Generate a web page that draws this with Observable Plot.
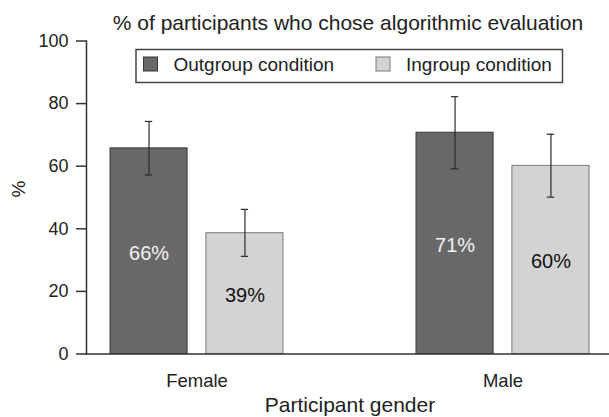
<!DOCTYPE html>
<html>
<head>
<meta charset="utf-8">
<script src="https://cdn.jsdelivr.net/npm/d3@7"></script>
<script src="https://cdn.jsdelivr.net/npm/@observablehq/plot@0.6"></script>
<style>
  html, body { margin: 0; padding: 0; background: #fff; }
  svg { display: block; overflow: visible; }
</style>
</head>
<body>
<div id="chart"></div>
<script>
const title = "% of participants who chose algorithmic evaluation";
const xLabel = "Participant gender";
const yLabel = "%";
const genders = ["Female", "Male"];
const conditions = ["Outgroup condition", "Ingroup condition"];
const conditionColors = ["#686868", "#d3d3d3"];
const outgroupPct = [65.7, 70.7];
const outgroupLow = [57.2, 59.2];
const outgroupHigh = [74.3, 82.2];
const ingroupPct = [38.6, 60.1];
const ingroupLow = [31.2, 50.1];
const ingroupHigh = [46.2, 70.2];
const yTicks = [0, 20, 40, 60, 80, 100];

const outData = genders.map((g, i) => ({gender: g, v: outgroupPct[i], lo: outgroupLow[i], hi: outgroupHigh[i]}));
const inData = genders.map((g, i) => ({gender: g, v: ingroupPct[i], lo: ingroupLow[i], hi: ingroupHigh[i]}));

const font = "'Liberation Sans', Arial, sans-serif";
const bw = 172.6;        // group band width
const barW = 76.7;       // each bar width
const off = (bw - barW) / 2; // offset from group centre to bar centre
const cap = 3.5;
const fmt = v => Math.round(v) + "%";

const chart = Plot.plot({
  width: 609,
  height: 417,
  marginLeft: 86,
  marginRight: 0,
  marginTop: 40.5,
  marginBottom: 63.5,
  style: {fontFamily: font, color: "#222", background: "#fff"},
  x: {domain: genders, range: [110, 588.6], paddingInner: 1 - bw / 306.1, paddingOuter: 0, label: null},
  y: {domain: [0, 100], label: null},
  marks: [
    // bars
    Plot.barY(outData, {x: "gender", y: "v", fill: conditionColors[0], stroke: "#3a3a3a", strokeWidth: 1, insetRight: bw - barW}),
    Plot.barY(inData, {x: "gender", y: "v", fill: conditionColors[1], stroke: "#7a7a7a", strokeWidth: 1, insetLeft: bw - barW}),
    // error bars
    Plot.ruleX(outData, {x: "gender", y1: "lo", y2: "hi", dx: -off, stroke: "#2a2a2a", strokeWidth: 1.2}),
    Plot.ruleX(inData, {x: "gender", y1: "lo", y2: "hi", dx: off, stroke: "#2a2a2a", strokeWidth: 1.2}),
    Plot.tickY(outData, {x: "gender", y: "hi", insetLeft: barW / 2 - cap, insetRight: bw - barW / 2 - cap, stroke: "#2a2a2a", strokeWidth: 1.2}),
    Plot.tickY(outData, {x: "gender", y: "lo", insetLeft: barW / 2 - cap, insetRight: bw - barW / 2 - cap, stroke: "#2a2a2a", strokeWidth: 1.2}),
    Plot.tickY(inData, {x: "gender", y: "hi", insetLeft: bw - barW / 2 - cap, insetRight: barW / 2 - cap, stroke: "#2a2a2a", strokeWidth: 1.2}),
    Plot.tickY(inData, {x: "gender", y: "lo", insetLeft: bw - barW / 2 - cap, insetRight: barW / 2 - cap, stroke: "#2a2a2a", strokeWidth: 1.2}),
    // value labels
    Plot.text(outData, {x: "gender", y: d => d.v / 2, text: d => fmt(d.v), dx: -off, dy: 2, fill: "#f2f2f2", fontSize: 20, fontFamily: font}),
    Plot.text(inData, {x: "gender", y: d => d.v / 2, text: d => fmt(d.v), dx: off, dy: 2, fill: "#111", fontSize: 20, fontFamily: font}),
    // axes
    Plot.axisY({ticks: yTicks, tickSize: 10, tickPadding: 8, fontSize: 18, stroke: "#333", strokeWidth: 1.5, fill: "#222", label: null}),
    Plot.axisX({tickSize: 0, tickPadding: 20, fontSize: 18.5, fill: "#222", label: null}),
    Plot.ruleY([0], {stroke: "#333", strokeWidth: 1.5}),
    Plot.frame({anchor: "left", stroke: "#333", strokeWidth: 1.5}),
    // titles
    Plot.text([title], {frameAnchor: "top", dy: -11.5, lineAnchor: "bottom", fontSize: 21, fill: "#222", fontFamily: font}),
    Plot.text([xLabel], {frameAnchor: "bottom", dx: 2, dy: 58.2, lineAnchor: "bottom", fontSize: 21, fill: "#222", fontFamily: font}),
    Plot.text([yLabel], {frameAnchor: "left", dx: -68, rotate: -90, lineAnchor: "middle", fontSize: 19, fill: "#222", fontFamily: font})
  ]
});

// legend box
const svg = d3.select(chart);
const lg = svg.append("g").attr("font-family", font).attr("font-size", 19).attr("fill", "#222").attr("text-anchor", "start");
lg.append("rect").attr("x", 136).attr("y", 49.5).attr("width", 426.5).attr("height", 33)
  .attr("fill", "#fff").attr("stroke", "#444").attr("stroke-width", 1.5);
const itemX = [143.5, 376];
conditions.forEach((c, i) => {
  lg.append("rect").attr("x", itemX[i]).attr("y", 57).attr("width", 14).attr("height", 14)
    .attr("fill", conditionColors[i]).attr("stroke", i === 0 ? "#3a3a3a" : "#7a7a7a");
  lg.append("text").attr("x", itemX[i] + 30).attr("y", 64).attr("dy", "0.35em").attr("text-anchor", "start").text(c);
});

document.getElementById("chart").appendChild(chart);
</script>
</body>
</html>
